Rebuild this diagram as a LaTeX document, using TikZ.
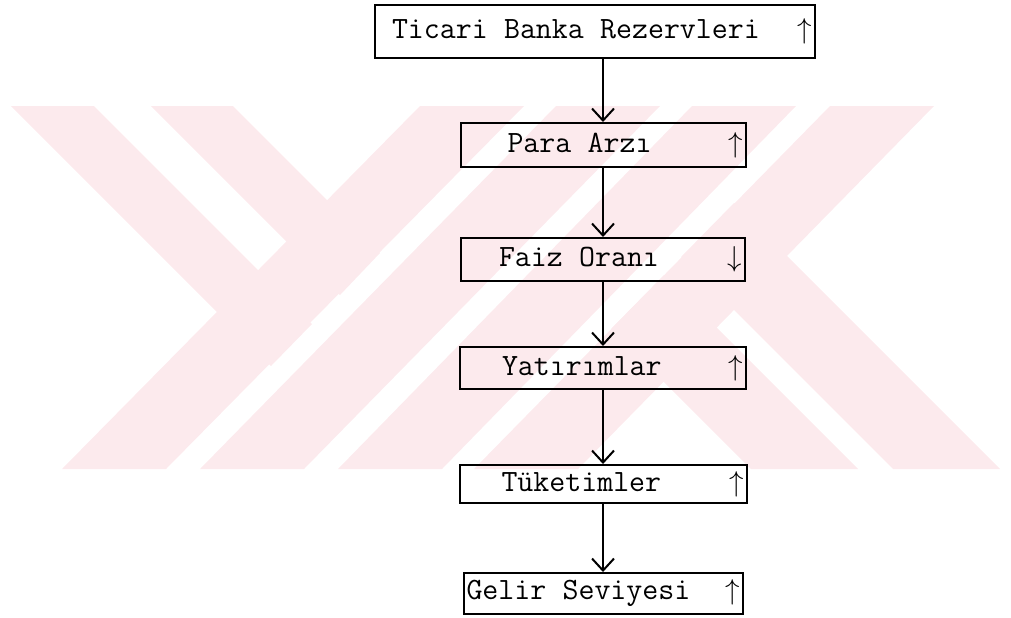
\documentclass[tikz,border=0pt]{standalone}
\usetikzlibrary{arrows.meta}
\definecolor{filigran}{RGB}{252,234,237}
\newcommand{\satir}[3]{\spaceskip=0.525em\relax\hspace*{#1}#2\hfill#3\hspace*{4pt}}
\begin{document}
\begin{tikzpicture}[x=0.5pt,y=-0.5pt,
  every node/.style={font=\ttfamily\fontsize{15.5}{18}\selectfont},
  kutu/.style={draw,line width=1pt,inner xsep=1.5pt,inner ysep=0pt,align=left},
  ok/.style={-{Straight Barb[length=6pt,width=11pt]},line width=1pt}
]
\useasboundingbox (0,0) rectangle (1011,617);

% --- filigran (arka plan) ---
\foreach \a/\b in {62/420,200/556,338/692,474/830}
  \fill[filigran] (\a,469) -- (\a+104,469) -- (\b+104,106) -- (\b,106) -- cycle;
\fill[filigran] (11,106) -- (94,106) -- (312,324) -- (271,366) -- cycle;
\fill[filigran] (151,106) -- (233,106) -- (380,253) -- (340,295) -- cycle;
\fill[filigran] (751,469) -- (858,469) -- (664,275) -- (611,329) -- cycle;
\fill[filigran] (893,469) -- (1000,469) -- (734,203) -- (681,257) -- cycle;

% --- kutular ---
\node[kutu,text width=217pt,minimum height=26.5pt] (rezerv) at (595,31.5)
  {\satir{7pt}{Ticari Banka Rezervleri}{$\uparrow$}};
\node[kutu,text width=139.5pt,minimum height=22pt] (arz) at (603,145)
  {\satir{22pt}{Para Arzı}{$\uparrow$}};
\node[kutu,text width=139pt,minimum height=21.5pt] (faiz) at (603,259.5)
  {\satir{17.5pt}{Faiz Oranı}{$\downarrow$}};
\node[kutu,text width=140pt,minimum height=21pt] (yatirim) at (603,368)
  {\satir{19.5pt}{Yatırımlar}{$\uparrow$}};
\node[kutu,text width=140.5pt,minimum height=19pt] (tuketim) at (603,484)
  {\satir{19.5pt}{Tüketimler}{$\uparrow$}};
\node[kutu,text width=136.5pt,minimum height=20.5pt] (gelir) at (603,593.5)
  {\satir{0pt}{Gelir Seviyesi}{$\uparrow$}};

% --- oklar ---
\draw[ok] (rezerv.south -| arz.north) -- (arz.north);
\draw[ok] (arz.south) -- (faiz.north);
\draw[ok] (faiz.south) -- (yatirim.north);
\draw[ok] (yatirim.south) -- (tuketim.north);
\draw[ok] (tuketim.south) -- (gelir.north);
\end{tikzpicture}
\end{document}
